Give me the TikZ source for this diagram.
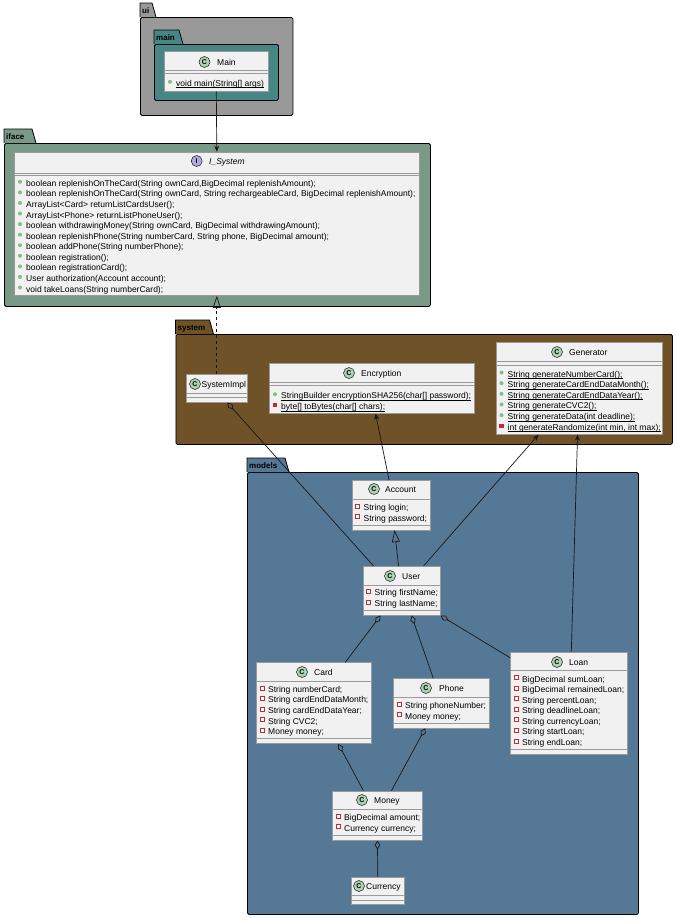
\documentclass[tikz,border=0pt]{standalone}
\usepackage{fontspec}
\setmainfont{Liberation Sans}
\usetikzlibrary{arrows.meta}

\definecolor{uigray}{HTML}{999999}
\definecolor{mainteal}{HTML}{488585}
\definecolor{ifacegreen}{HTML}{7A9A87}
\definecolor{sysbrown}{HTML}{6F5228}
\definecolor{modelsblue}{HTML}{557896}
\definecolor{clsfill}{HTML}{F1F1F1}
\definecolor{clsline}{HTML}{9A9A9A}
\definecolor{ink}{HTML}{181818}
\definecolor{cbadge}{HTML}{ADD1B2}
\definecolor{ibadge}{HTML}{B4A7E5}
\definecolor{pubgreen}{HTML}{84BE84}
\definecolor{privred}{HTML}{C82930}

% static members are underlined just below the baseline
\newcommand{\statictxt}[1]{\setbox0=\hbox{#1}\rlap{\rule[-1.6pt]{\wd0}{0.5pt}}\box0}

\begin{document}
\begin{tikzpicture}[x=1pt, y=-1pt,
    pkg/.style={draw=black, line width=0.8pt, rounded corners=1.5pt,
                inner sep=0pt, anchor=north west},
    pkgtab/.style={draw=black, line width=0.8pt},
    pkglabel/.style={font=\bfseries\fontsize{8}{9}\selectfont,
                     inner sep=0pt, anchor=base west},
    cls/.style={draw=clsline, fill=clsfill, line width=0.6pt,
                inner sep=0pt, anchor=north west},
    divider/.style={draw=clsline, line width=0.6pt},
    badge/.style={circle, draw=ink, line width=0.5pt, fill=cbadge,
                  minimum size=11pt, inner sep=0pt,
                  font=\bfseries\fontsize{7}{7}\selectfont},
    cname/.style={font=\fontsize{8.5}{10}\selectfont, inner sep=0pt,
                  anchor=base west},
    member/.style={font=\fontsize{8.5}{10}\selectfont, inner sep=0pt,
                   anchor=base west},
    pub/.style={circle, fill=pubgreen, minimum size=4pt, inner sep=0pt},
    privf/.style={rectangle, draw=privred, fill=white, line width=0.6pt,
                  minimum size=4pt, inner sep=0pt},
    privm/.style={rectangle, fill=privred, minimum size=4.5pt, inner sep=0pt},
    assoc/.style={draw=ink, line width=0.7pt, -{Stealth[length=6pt, width=5pt]}},
    agg/.style={draw=ink, line width=0.7pt, {Diamond[open, length=9pt, width=5.5pt]}-},
    real/.style={draw=ink, line width=0.7pt, dash pattern=on 3pt off 3pt,
                 -{Triangle[open, length=12pt, width=8pt]}},
    inh/.style={draw=ink, line width=0.7pt, -{Triangle[open, length=12pt, width=8pt]}}
  ]

  \path[fill=white] (0,0) rectangle (676,918);
  \useasboundingbox (0,0) rectangle (676,918);

  % packages
  \node[pkg, fill=uigray, minimum width=152.5pt, minimum height=98pt] (ui) at (140,17) {};
  \filldraw[pkgtab, fill=uigray] (ui.north west) -- ++(0,-14) -- ++(12,0) -- ++(4,14);
  \node[pkglabel] (ui-l) at (142,13.5) {ui};

  \node[pkg, fill=mainteal, minimum width=124pt, minimum height=56pt] (mainpkg) at (154,44) {};
  \filldraw[pkgtab, fill=mainteal] (mainpkg.north west) -- ++(0,-14) -- ++(25,0) -- ++(4,14);
  \node[pkglabel] (mainpkg-l) at (156,40.5) {main};

  \node[pkg, fill=ifacegreen, minimum width=426pt, minimum height=163pt] (iface) at (4,143) {};
  \filldraw[pkgtab, fill=ifacegreen] (iface.north west) -- ++(0,-14) -- ++(28,0) -- ++(4,14);
  \node[pkglabel] (iface-l) at (6,139.5) {iface};

  \node[pkg, fill=sysbrown, minimum width=496.5pt, minimum height=110pt] (system) at (175.5,334) {};
  \filldraw[pkgtab, fill=sysbrown] (system.north west) -- ++(0,-14) -- ++(34,0) -- ++(4,14);
  \node[pkglabel] (system-l) at (177.5,330.5) {system};

  \node[pkg, fill=modelsblue, minimum width=391pt, minimum height=442pt] (models) at (247,472) {};
  \filldraw[pkgtab, fill=modelsblue] (models.north west) -- ++(0,-14) -- ++(38,0) -- ++(4,14);
  \node[pkglabel] (models-l) at (249,468.5) {models};

  % class boxes
  \node[cls, minimum width=104pt, minimum height=39.7pt] (main) at (164,51) {};
  \node[cls, minimum width=405pt, minimum height=143.6pt] (isys) at (14,151.7) {};
  \node[cls, minimum width=61pt, minimum height=28pt] (simpl) at (186,374) {};
  \node[cls, minimum width=204.5pt, minimum height=50pt] (enc) at (269,363) {};
  \node[cls, minimum width=166.5pt, minimum height=92pt] (gen) at (495.5,342) {};
  \node[cls, minimum width=78.5pt, minimum height=49.5pt] (account) at (351.5,480) {};
  \node[cls, minimum width=77.5pt, minimum height=49pt] (user) at (362.5,566) {};
  \node[cls, minimum width=115pt, minimum height=81pt] (card) at (256,662.3) {};
  \node[cls, minimum width=96pt, minimum height=49.4pt] (phone) at (393,678.3) {};
  \node[cls, minimum width=117pt, minimum height=102.3pt] (loan) at (510,651.7) {};
  \node[cls, minimum width=90.3pt, minimum height=49.3pt] (money) at (332,790.7) {};
  \node[cls, minimum width=53pt, minimum height=27.6pt] (currency) at (351,876.7) {};

  % connectors
  \draw[assoc] (main.south) -- (isys.north);
  \draw[real] (simpl.north) -- (isys.south);
  \draw[agg] ([xshift=10.5pt]simpl.south) -- ([xshift=-28pt]user.north);
  \draw[assoc] ([xshift=-2pt]account.north) -- ([xshift=4pt]enc.south);
  \draw[inh] ([xshift=-3pt]user.north) -- ([xshift=3.5pt]account.south);
  \draw[assoc] ([xshift=22pt]user.north) -- ([xshift=-40.5pt]gen.south);
  \draw[assoc] ([xshift=2.5pt]loan.north) -- ([xshift=-1.5pt]gen.south);
  \draw[agg] ([xshift=-21pt]user.south) -- ([xshift=31.5pt]card.north);
  \draw[agg] ([xshift=10pt]user.south) -- ([xshift=-8pt]phone.north);
  \draw[agg] (user.south east) -- ([yshift=-6pt]loan.north west);
  \draw[agg] ([xshift=24.5pt]card.south) -- ([xshift=-14pt]money.north);
  \draw[agg] ([xshift=-16pt]phone.south) -- ([xshift=14pt]money.north);
  \draw[agg] (money.south) -- (currency.north);

  % Main
  \node[badge] (main-c) at (204.5,62) {C};
  \node[cname] (main-n) at (217,65) {Main};
  \draw[divider] (main.west |- 0,70) -- (main.east |- 0,70);
  \draw[divider] (main.west |- 0,73) -- (main.east |- 0,73);
  \node[pub] (main-k0) at (170,81.8) {};
  \node[member] (main-m0) at (176,86.3) {\statictxt{void main(String[] args)}};

  % I_System
  \node[badge, fill=ibadge] (isys-c) at (196.7,161) {I};
  \node[cname] (isys-n) at (209,164) {\itshape I\_System};
  \draw[divider] (isys.west |- 0,173) -- (isys.east |- 0,173);
  \draw[divider] (isys.west |- 0,175.5) -- (isys.east |- 0,175.5);
  \foreach \m [count=\i from 0] in {
      {boolean replenishOnTheCard(String ownCard,BigDecimal replenishAmount);},
      {boolean replenishOnTheCard(String ownCard, String rechargeableCard, BigDecimal replenishAmount);},
      {ArrayList<Card> returnListCardsUser();},
      {ArrayList<Phone> returnListPhoneUser();},
      {boolean withdrawingMoney(String ownCard, BigDecimal withdrawingAmount);},
      {boolean replenishPhone(String numberCard, String phone, BigDecimal amount);},
      {boolean addPhone(String numberPhone);},
      {boolean registration();},
      {boolean registrationCard();},
      {User authorization(Account account);},
      {void takeLoans(String numberCard);}} {
    \node[pub] (isys-k\i) at (20,{181.8+10.57*\i}) {};
    \node[member] (isys-m\i) at (26,{186.3+10.57*\i}) {\m};
  }

  % SystemImpl
  \node[badge] (simpl-c) at (195,384) {C};
  \node[cname] (simpl-n) at (201.5,387) {SystemImpl};
  \draw[divider] (simpl.west |- 0,393.5) -- (simpl.east |- 0,393.5);
  \draw[divider] (simpl.west |- 0,397.5) -- (simpl.east |- 0,397.5);

  % Encryption
  \node[badge] (enc-c) at (349,373) {C};
  \node[cname] (enc-n) at (361,376) {Encryption};
  \draw[divider] (enc.west |- 0,382) -- (enc.east |- 0,382);
  \draw[divider] (enc.west |- 0,385.5) -- (enc.east |- 0,385.5);
  \foreach \k/\m [count=\i from 0] in {
      pub/{\statictxt{StringBuilder encryptionSHA256(char[] password);}},
      privm/{\statictxt{byte[] toBytes(char[] chars);}}} {
    \node[\k] (enc-k\i) at (275,{394.2+11*\i}) {};
    \node[member] (enc-m\i) at (281,{398.7+11*\i}) {\m};
  }

  % Generator
  \node[badge] (gen-c) at (557,352) {C};
  \node[cname] (gen-n) at (569,355) {Generator};
  \draw[divider] (gen.west |- 0,361.7) -- (gen.east |- 0,361.7);
  \draw[divider] (gen.west |- 0,365.3) -- (gen.east |- 0,365.3);
  \foreach \k/\m [count=\i from 0] in {
      pub/{\statictxt{String generateNumberCard();}},
      pub/{\statictxt{String generateCardEndDataMonth();}},
      pub/{\statictxt{String generateCardEndDataYear();}},
      pub/{\statictxt{String generateCVC2();}},
      pub/{\statictxt{String generateData(int deadline);}},
      privm/{\statictxt{int generateRandomize(int min, int max);}}} {
    \node[\k] (gen-k\i) at (501.5,{372.5+10.66*\i}) {};
    \node[member] (gen-m\i) at (507.5,{377+10.66*\i}) {\m};
  }

  % Account
  \node[badge] (account-c) at (374,489) {C};
  \node[cname] (account-n) at (385,492) {Account};
  \draw[divider] (account.west |- 0,499.3) -- (account.east |- 0,499.3);
  \draw[divider] (account.west |- 0,525.7) -- (account.east |- 0,525.7);
  \foreach \m [count=\i from 0] in {{String login;}, {String password;}} {
    \node[privf] (account-k\i) at (357.5,{505.8+10.7*\i}) {};
    \node[member] (account-m\i) at (363.5,{510.3+10.7*\i}) {\m};
  }

  % User
  \node[badge] (user-c) at (390,576) {C};
  \node[cname] (user-n) at (402,579) {User};
  \draw[divider] (user.west |- 0,585.6) -- (user.east |- 0,585.6);
  \draw[divider] (user.west |- 0,610.7) -- (user.east |- 0,610.7);
  \foreach \m [count=\i from 0] in {{String firstName;}, {String lastName;}} {
    \node[privf] (user-k\i) at (368.5,{591.2+10.6*\i}) {};
    \node[member] (user-m\i) at (374.5,{595.7+10.6*\i}) {\m};
  }

  % Card
  \node[badge] (card-c) at (302,672) {C};
  \node[cname] (card-n) at (314,675) {Card};
  \draw[divider] (card.west |- 0,681.7) -- (card.east |- 0,681.7);
  \draw[divider] (card.west |- 0,738.3) -- (card.east |- 0,738.3);
  \foreach \m [count=\i from 0] in {{String numberCard;}, {String cardEndDataMonth;},
      {String cardEndDataYear;}, {String CVC2;}, {Money money;}} {
    \node[privf] (card-k\i) at (262,{687.8+10.6*\i}) {};
    \node[member] (card-m\i) at (268,{692.3+10.6*\i}) {\m};
  }

  % Phone
  \node[badge] (phone-c) at (426,688) {C};
  \node[cname] (phone-n) at (439,691) {Phone};
  \draw[divider] (phone.west |- 0,697.7) -- (phone.east |- 0,697.7);
  \draw[divider] (phone.west |- 0,723.3) -- (phone.east |- 0,723.3);
  \foreach \m [count=\i from 0] in {{String phoneNumber;}, {Money money;}} {
    \node[privf] (phone-k\i) at (399,{703.8+10.7*\i}) {};
    \node[member] (phone-m\i) at (405,{708.3+10.7*\i}) {\m};
  }

  % Loan
  \node[badge] (loan-c) at (557,662) {C};
  \node[cname] (loan-n) at (569,665) {Loan};
  \draw[divider] (loan.west |- 0,670.7) -- (loan.east |- 0,670.7);
  \draw[divider] (loan.west |- 0,749.3) -- (loan.east |- 0,749.3);
  \foreach \m [count=\i from 0] in {{BigDecimal sumLoan;}, {BigDecimal remainedLoan;},
      {String percentLoan;}, {String deadlineLoan;}, {String currencyLoan;},
      {String startLoan;}, {String endLoan;}} {
    \node[privf] (loan-k\i) at (516,{677.5+10.55*\i}) {};
    \node[member] (loan-m\i) at (522,{682+10.55*\i}) {\m};
  }

  % Money
  \node[badge] (money-c) at (362,800) {C};
  \node[cname] (money-n) at (374,803) {Money};
  \draw[divider] (money.west |- 0,809.3) -- (money.east |- 0,809.3);
  \draw[divider] (money.west |- 0,835.7) -- (money.east |- 0,835.7);
  \foreach \m [count=\i from 0] in {{BigDecimal amount;}, {Currency currency;}} {
    \node[privf] (money-k\i) at (338,{815.8+10.7*\i}) {};
    \node[member] (money-m\i) at (344,{820.3+10.7*\i}) {\m};
  }

  % Currency
  \node[badge] (currency-c) at (359,886) {C};
  \node[cname] (currency-n) at (366,889) {Currency};
  \draw[divider] (currency.west |- 0,895.7) -- (currency.east |- 0,895.7);
  \draw[divider] (currency.west |- 0,900) -- (currency.east |- 0,900);
\end{tikzpicture}
\end{document}
